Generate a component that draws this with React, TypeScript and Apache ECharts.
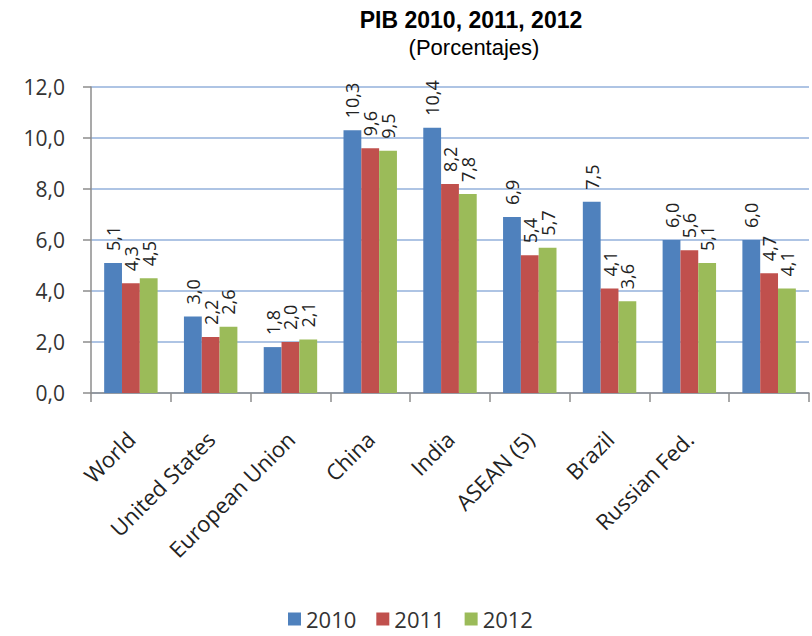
import React, { useEffect, useRef } from "react";
import * as echarts from "echarts";

const categories = ["World", "United States", "European Union", "China", "India", "ASEAN (5)", "Brazil", "Russian Fed.", ""];
const years = ["2010", "2011", "2012"];
const values2010 = [5.1, 3.0, 1.8, 10.3, 10.4, 6.9, 7.5, 6.0, 6.0];
const values2011 = [4.3, 2.2, 2.0, 9.6, 8.2, 5.4, 4.1, 5.6, 4.7];
const values2012 = [4.5, 2.6, 2.1, 9.5, 7.8, 5.7, 3.6, 5.1, 4.1];
const colors = ["#4f81bd", "#c0504d", "#9bbb59"];

const fmt = (v: number) => v.toFixed(1).replace(".", ",");

export default function App() {
  const ref = useRef<HTMLDivElement>(null);
  useEffect(() => {
    document.body.style.margin = "0";
    const chart = echarts.init(ref.current!, null, { renderer: "svg" });
    const seriesData = [values2010, values2011, values2012];
    chart.setOption({
      animation: false,
      backgroundColor: "#ffffff",
      graphic: [
        { type: "text", x: 471, y: 20, style: { text: "PIB 2010, 2011, 2012", font: "bold 23px 'Liberation Sans', Arial", fill: "#000", textAlign: "center", textVerticalAlign: "middle" } },
        { type: "text", x: 474, y: 47, style: { text: "(Porcentajes)", font: "22px 'Liberation Sans', Arial", fill: "#000", textAlign: "center", textVerticalAlign: "middle" } },
      ],
      legend: {
        top: 603,
        left: 283,
        itemWidth: 13,
        itemHeight: 13,
        itemGap: 20,
        icon: "rect",
        textStyle: { fontSize: 22, color: "#333", fontFamily: "Open Sans" },
        data: years,
      },
      grid: { left: 91, right: 3, top: 87, bottom: 243, containLabel: false },
      xAxis: {
        type: "category",
        data: categories,
        axisLine: { lineStyle: { color: "#8c8c8c", width: 1.5 } },
        axisTick: { show: true, alignWithLabel: false, length: 9, lineStyle: { color: "#8c8c8c", width: 1.5 } },
        axisLabel: { rotate: 45, fontSize: 22, color: "#222", fontFamily: "Open Sans", margin: 42, interval: 0 },
      },
      yAxis: {
        type: "value",
        min: 0,
        max: 12,
        interval: 2,
        axisLine: { show: true, lineStyle: { color: "#8c8c8c", width: 1.5 } },
        axisTick: { show: true, length: 8, lineStyle: { color: "#8c8c8c", width: 1.5 } },
        axisLabel: { fontSize: 21, color: "#333", fontFamily: "Open Sans", formatter: (v: number) => fmt(v), margin: 26 },
        splitLine: { lineStyle: { color: "#aec4e4", width: 2 } },
      },
      series: years.map((y, i) => ({
        name: y,
        type: "bar",
        data: seriesData[i],
        barGap: "0%",
        barCategoryGap: "33%",
        itemStyle: { color: colors[i] },
        label: {
          show: true,
          position: "top",
          rotate: 90,
          align: "left",
          verticalAlign: "middle",
          distance: 12,
          fontSize: 18,
          color: "#222",
          fontFamily: "Open Sans",
          formatter: (p: any) => fmt(p.value),
        },
      })),
    });
    return () => chart.dispose();
  }, []);
  return <div ref={ref} style={{ position: "absolute", left: 0, top: 0, width: 812, height: 636 }} />;
}
